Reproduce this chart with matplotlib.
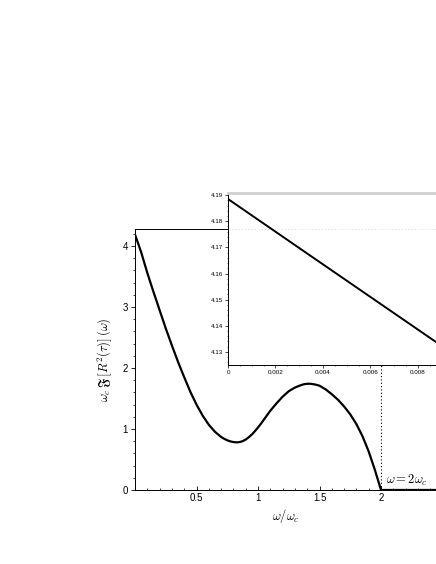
import matplotlib
matplotlib.use("Agg")
import matplotlib.pyplot as plt
from matplotlib.ticker import MultipleLocator

plt.rcParams['font.family'] = ['Liberation Sans', 'DejaVu Sans']
plt.rcParams['mathtext.fontset'] = 'cm'

# main curve data
main_x = [0.00, 0.05, 0.10, 0.15, 0.20, 0.25, 0.30, 0.35, 0.40, 0.45,
          0.50, 0.55, 0.60, 0.65, 0.70, 0.725, 0.75, 0.775, 0.80, 0.825,
          0.85, 0.875, 0.90, 0.925, 0.95, 0.975, 1.00, 1.025, 1.05, 1.10,
          1.15, 1.20, 1.25, 1.30, 1.325, 1.35, 1.375, 1.40, 1.425, 1.45,
          1.475, 1.50, 1.55, 1.60, 1.65, 1.70, 1.75, 1.80, 1.85, 1.90,
          1.95, 2.00, 2.45]
main_y = [4.19, 3.90, 3.56, 3.25, 2.95, 2.65, 2.37, 2.10, 1.85, 1.61,
          1.40, 1.22, 1.07, 0.955, 0.87, 0.84, 0.815, 0.797, 0.786, 0.781,
          0.786, 0.80, 0.828, 0.865, 0.91, 0.965, 1.025, 1.09, 1.16, 1.30,
          1.42, 1.53, 1.62, 1.68, 1.70, 1.72, 1.735, 1.742, 1.742, 1.735,
          1.725, 1.71, 1.65, 1.57, 1.48, 1.37, 1.24, 1.08, 0.88, 0.63,
          0.33, 0.00, 0.00]
main_xticks = [0.5, 1, 1.5, 2]
main_xticklabels = ["0.5", "1", "1.5", "2"]
main_yticks = [0, 1, 2, 3, 4]

# inset data
inset_x = [0.0, 0.004, 0.00876]
inset_y = [4.1885, 4.1635, 4.1338]
inset_xticks = [0, 0.002, 0.004, 0.006, 0.008]
inset_xticklabels = ["0", "0.002", "0.004", "0.006", "0.008"]
inset_yticks = [4.13, 4.14, 4.15, 4.16, 4.17, 4.18, 4.19]

W, H = 436, 564
fig = plt.figure(figsize=(W / 100, H / 100), dpi=100)

def rect(l, t, r, b):
    return [l / W, 1 - b / H, (r - l) / W, (b - t) / H]

ax = fig.add_axes(rect(135, 229, 436, 490))
ax.plot(main_x, main_y, color='black', lw=1.6, solid_capstyle='butt',
        solid_joinstyle='round', zorder=3)
ax.set_xlim(0, 2.447)
ax.set_ylim(0, 4.28)
ax.spines['right'].set_visible(False)
for s in ['left', 'bottom', 'top']:
    ax.spines[s].set_linewidth(0.7)
ax.set_xticks(main_xticks)
ax.set_xticklabels(main_xticklabels)
ax.set_yticks(main_yticks)
ax.xaxis.set_minor_locator(MultipleLocator(0.1))
ax.yaxis.set_minor_locator(MultipleLocator(0.2))
ax.tick_params(which='major', direction='out', length=3, width=0.6, labelsize=7, pad=2)
ax.tick_params(which='minor', direction='out', length=1.5, width=0.5)
ax.tick_params(axis='x', which='both', direction='in')
ax.axvline(2.0, ymin=0, ymax=1, color='black', lw=0.8, ls=(0, (1, 2)), zorder=2)
ax.text(2.04, 0.16, r'$\omega = 2\omega_c$', fontsize=9, ha='left', va='center')
ax.set_xlabel(r'$\omega/\omega_c$', fontsize=9, labelpad=3)
ax.set_ylabel(r'$\omega_c\,\mathfrak{F}\,\left[R^2(\tau)\right]\,(\omega)$', fontsize=9, labelpad=6)

ins = fig.add_axes(rect(228, 193, 436, 365))
ins.set_facecolor('white')
ins.plot(inset_x, inset_y, color='black', lw=1.4, zorder=3)
ins.set_xlim(0, 0.00876)
ins.set_ylim(4.125, 4.1908)
ins.axhline(4.1772, color='#cccccc', lw=0.6, ls=(0, (1, 3)), zorder=1)
ins.spines['right'].set_visible(False)
ins.spines['top'].set_color('#d0d0d0')
ins.spines['top'].set_linewidth(2.0)
ins.spines['left'].set_linewidth(0.7)
ins.spines['bottom'].set_linewidth(0.7)
ins.set_xticks(inset_xticks)
ins.set_xticklabels(inset_xticklabels)
ins.set_yticks(inset_yticks)
ins.xaxis.set_minor_locator(MultipleLocator(0.0005))
ins.yaxis.set_minor_locator(MultipleLocator(0.002))
ins.tick_params(which='major', direction='out', length=2, width=0.5, labelsize=4.5, pad=1.5)
ins.tick_params(which='minor', direction='out', length=1, width=0.4)

fig.savefig('out.png', dpi=100)
